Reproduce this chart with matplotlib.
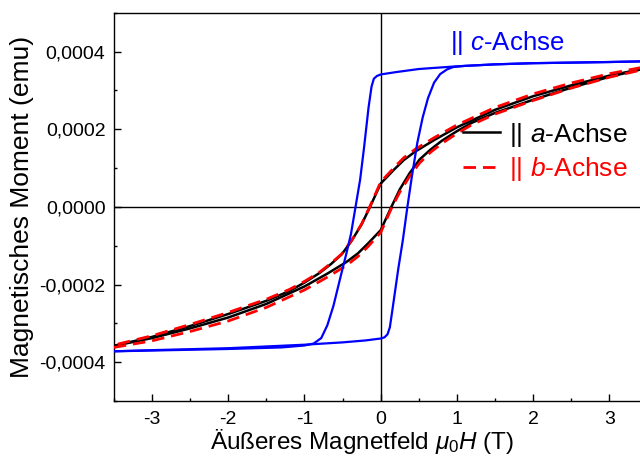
import matplotlib
matplotlib.use('Agg')
import matplotlib.pyplot as plt
from matplotlib.ticker import MultipleLocator, FuncFormatter

plt.rcParams['font.family'] = ['Liberation Sans', 'DejaVu Sans']
plt.rcParams['mathtext.fontset'] = 'custom'
plt.rcParams['mathtext.rm'] = 'Liberation Sans'
plt.rcParams['mathtext.it'] = 'Liberation Sans:italic'
plt.rcParams['axes.unicode_minus'] = False

SCALE = 1e-4  # values below are in units of 1e-4 emu

# c-Achse, field sweep down (+3.5 T -> -3.5 T)
c_down_h = [3.5, 3.0, 2.0, 1.5, 1.0, 0.5, 0.2, 0.0, -0.05, -0.09, -0.12, -0.16, -0.22, -0.27,
            -0.33, -0.39, -0.45, -0.52, -0.62, -0.7, -0.78, -0.88, -1.0, -1.3, -2.0, -3.0, -3.5]
c_down_m = [3.75, 3.73, 3.70, 3.67, 3.62, 3.55, 3.47, 3.41, 3.37, 3.30, 3.10, 2.55, 1.5, 0.7,
            0.0, -0.7, -1.2, -1.75, -2.55, -3.05, -3.38, -3.52, -3.57, -3.62, -3.66, -3.70, -3.72]
# c-Achse, field sweep up (-3.5 T -> +3.5 T)
c_up_h = [-3.5, -3.0, -2.0, -1.0, -0.5, -0.2, 0.0, 0.05, 0.09, 0.12, 0.15, 0.19, 0.23, 0.29,
          0.35, 0.41, 0.48, 0.55, 0.62, 0.70, 0.78, 0.87, 0.95, 1.1, 1.5, 2.0, 3.0, 3.5]
c_up_m = [-3.72, -3.69, -3.64, -3.55, -3.49, -3.44, -3.39, -3.36, -3.28, -3.10, -2.70, -2.15,
          -1.6, -0.86, 0.0, 0.8, 1.65, 2.3, 2.8, 3.2, 3.42, 3.54, 3.60, 3.63, 3.67, 3.70, 3.73, 3.75]

# a-Achse
a_down_h = [3.5, 3.0, 2.5, 2.0, 1.5, 1.0, 0.7, 0.45, 0.3, 0.17, 0.0, -0.14, -0.25, -0.38,
            -0.51, -0.65, -0.8, -1.0, -1.2, -1.5, -2.0, -2.5, -3.0, -3.5]
a_down_m = [3.58, 3.38, 3.13, 2.85, 2.50, 2.05, 1.72, 1.42, 1.20, 0.95, 0.60, 0.0, -0.45, -0.87,
            -1.22, -1.47, -1.70, -1.95, -2.17, -2.42, -2.76, -3.07, -3.35, -3.58]
a_up_h = [-3.5, -3.0, -2.5, -2.0, -1.5, -1.0, -0.7, -0.45, -0.3, -0.17, 0.0, 0.14, 0.25, 0.38,
          0.51, 0.65, 0.8, 1.0, 1.2, 1.5, 2.0, 2.5, 3.0, 3.5]
a_up_m = [-3.58, -3.38, -3.13, -2.85, -2.50, -2.05, -1.72, -1.42, -1.20, -0.95, -0.60, 0.0, 0.45,
          0.87, 1.22, 1.47, 1.70, 1.95, 2.17, 2.42, 2.76, 3.07, 3.35, 3.58]

# b-Achse
b_down_h = [3.5, 3.0, 2.5, 2.0, 1.5, 1.0, 0.7, 0.45, 0.3, 0.17, 0.0, -0.14, -0.25, -0.38,
            -0.51, -0.65, -0.8, -1.0, -1.2, -1.5, -2.0, -2.5, -3.0, -3.5]
b_down_m = [3.62, 3.43, 3.19, 2.91, 2.56, 2.11, 1.78, 1.48, 1.26, 1.00, 0.64, 0.02, -0.44, -0.86,
            -1.21, -1.45, -1.68, -1.92, -2.13, -2.38, -2.72, -3.03, -3.32, -3.56]
b_up_h = [-3.5, -3.0, -2.5, -2.0, -1.5, -1.0, -0.7, -0.45, -0.3, -0.17, 0.0, 0.14, 0.25, 0.38,
          0.51, 0.65, 0.8, 1.0, 1.2, 1.5, 2.0, 2.5, 3.0, 3.5]
b_up_m = [-3.62, -3.45, -3.21, -2.94, -2.59, -2.14, -1.81, -1.51, -1.28, -1.03, -0.66, -0.04, 0.38,
          0.79, 1.13, 1.40, 1.63, 1.89, 2.12, 2.39, 2.74, 3.06, 3.34, 3.56]


def scaled(vals):
    return [v * SCALE for v in vals]


fig = plt.figure(figsize=(6.4, 4.57), dpi=100)
ax = fig.add_axes([0.1778, 0.1225, 0.8222, 0.8497])

ax.axhline(0, color='black', lw=1.0, zorder=1)
ax.axvline(0, color='black', lw=1.0, zorder=1)

la, = ax.plot(a_down_h, scaled(a_down_m), color='black', lw=1.8, zorder=2)
ax.plot(a_up_h, scaled(a_up_m), color='black', lw=1.8, zorder=2)
lb, = ax.plot(b_down_h, scaled(b_down_m), color='red', lw=2.0, ls=(0, (4.5, 2.5)), zorder=3)
ax.plot(b_up_h, scaled(b_up_m), color='red', lw=2.0, ls=(0, (4.5, 2.5)), zorder=3)
ax.plot(c_down_h, scaled(c_down_m), color='#0000ff', lw=1.6, zorder=4)
ax.plot(c_up_h, scaled(c_up_m), color='#0000ff', lw=1.6, zorder=4)

ax.set_xlim(-3.5, 3.4)
ax.set_ylim(-0.0005, 0.0005)
ax.xaxis.set_major_locator(MultipleLocator(1))
ax.xaxis.set_minor_locator(MultipleLocator(0.5))
ax.yaxis.set_major_locator(MultipleLocator(0.0002))
ax.yaxis.set_minor_locator(MultipleLocator(0.0001))
ax.yaxis.set_major_formatter(FuncFormatter(lambda v, p: f'{v:.4f}'.replace('.', ',')))
ax.xaxis.set_major_formatter(FuncFormatter(lambda v, p: f'{v:.0f}'))

ax.tick_params(which='both', direction='in', top=False, right=False, width=1.0, labelsize=14)
ax.tick_params(which='major', length=5)
ax.tick_params(which='minor', length=2.5)
ax.tick_params(axis='x', pad=7)
ax.tick_params(axis='y', pad=6)
for s in ax.spines.values():
    s.set_linewidth(1.0)
ax.spines['right'].set_visible(False)

ax.set_xlabel(r'Äußeres Magnetfeld $\mu_0H$ (T)', fontsize=17.5, labelpad=0)
ax.xaxis.set_label_coords(0.472, -0.068, transform=ax.transAxes)
ax.set_ylabel('Magnetisches Moment (emu)', fontsize=19, labelpad=4)

ax.text(0.91, 0.000404, r'|| $\mathit{c}$-Achse', color='#0000ff', fontsize=18.5)
ax.legend([la, lb], [r'|| $\mathit{a}$-Achse', r'|| $\mathit{b}$-Achse'],
          labelcolor=['black', 'red'], fontsize=19, frameon=False,
          loc='upper left', bbox_to_anchor=(0.6636, 0.722), borderpad=0, borderaxespad=0,
          handlelength=1.4, handletextpad=0.35, labelspacing=0.25)

fig.savefig('out.png', dpi=100)
